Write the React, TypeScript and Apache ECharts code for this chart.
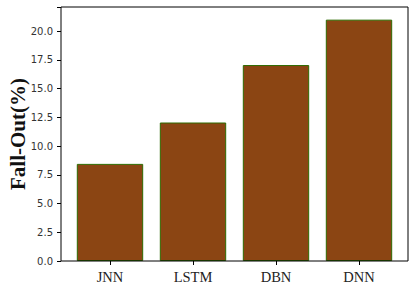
import React, { useEffect, useRef } from "react";
import * as echarts from "echarts";

const categories = ["JNN", "LSTM", "DBN", "DNN"];
const values = [8.45, 12.05, 17.05, 21.0];
const yTicks = [0, 2.5, 5, 7.5, 10, 12.5, 15, 17.5, 20];

export default function App() {
  const ref = useRef<HTMLDivElement>(null);
  useEffect(() => {
    if (!ref.current) return;
    const chart = echarts.init(ref.current, undefined, { renderer: "svg" });
    const plotL = 61, plotR = 408, plotT = 7, plotB = 261;
    const inset = 7.5;
    chart.setOption({
      animation: false,
      grid: {
        left: plotL + inset,
        right: 414 - plotR + inset,
        top: plotT,
        bottom: 293 - plotB,
        containLabel: false,
        outerBoundsMode: "none",
      },
      xAxis: {
        type: "category",
        data: categories,
        axisLine: { show: false },
        axisTick: { show: true, alignWithLabel: true, length: 4, lineStyle: { color: "#000" } },
        axisLabel: { fontFamily: "Liberation Serif", fontSize: 14.5, color: "#222", margin: 8 },
      },
      yAxis: {
        type: "value",
        min: 0,
        max: 22.1,
        interval: 2.5,
        offset: inset,
        name: "Fall-Out(%)",
        nameLocation: "middle",
        nameGap: 33,
        nameMoveOverlap: false,
        nameTextStyle: { fontFamily: "Liberation Serif", fontWeight: "bold", fontSize: 21, color: "#111" },
        axisLine: { show: false },
        axisTick: { show: true, length: 4, lineStyle: { color: "#000" } },
        splitLine: { show: false },
        axisLabel: {
          fontFamily: "DejaVu Sans",
          fontSize: 10,
          color: "#333",
          margin: 8,
          formatter: (v: number) => (yTicks.includes(v) ? v.toFixed(1) : ""),
        },
      },
      series: [
        {
          type: "bar",
          data: values,
          barWidth: "80%",
          itemStyle: { color: "#8B4513", borderColor: "#2e6b00", borderWidth: 1 },
        },
      ],
      graphic: [
        {
          type: "rect",
          shape: { x: plotL, y: plotT, width: plotR - plotL, height: plotB - plotT },
          style: { fill: "none", stroke: "#000", lineWidth: 1 },
          z: 100,
        },
      ],
    });
    return () => chart.dispose();
  }, []);
  return <div ref={ref} style={{ width: 414, height: 293, position: "absolute", left: 0, top: 0 }} />;
}
